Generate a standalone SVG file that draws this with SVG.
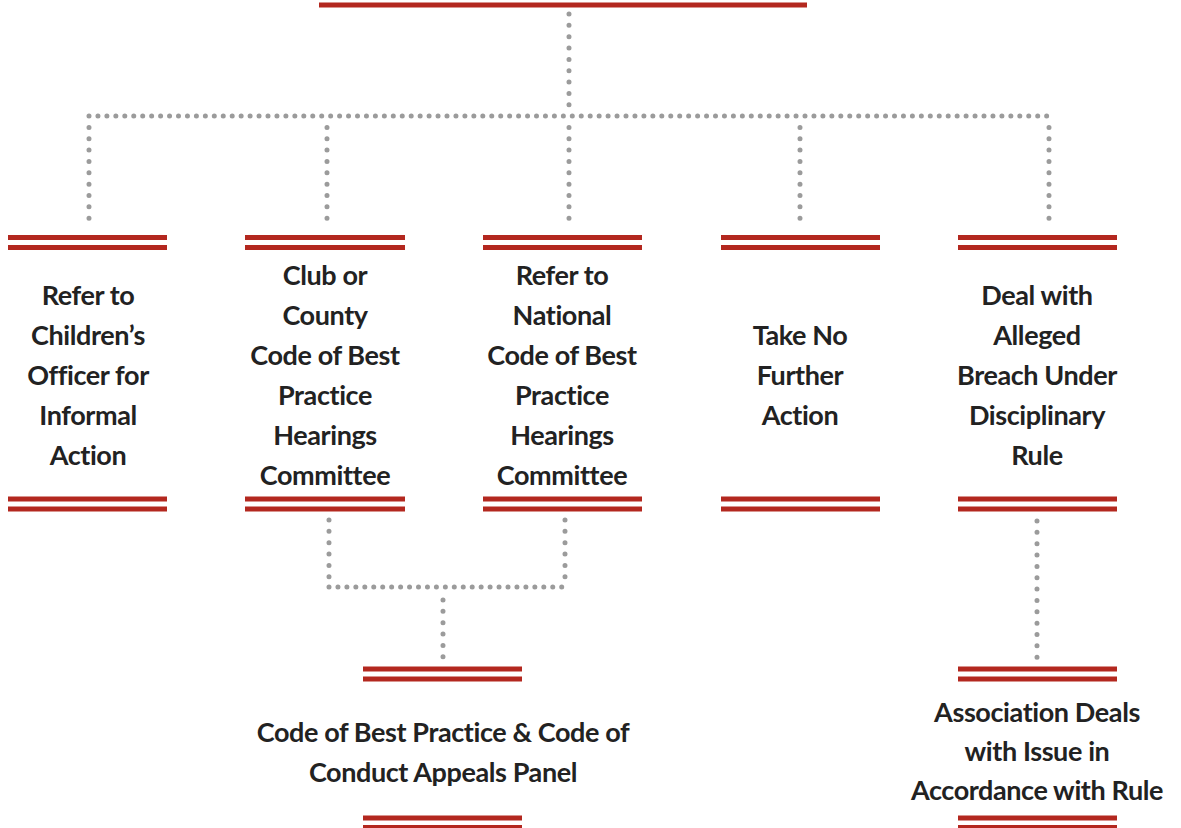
<svg xmlns="http://www.w3.org/2000/svg" width="1181" height="828" viewBox="0 0 1181 828">
<defs>
<style>
.bar{fill:#b3281f}
.dot{fill:none;stroke:#9b9b9b;stroke-width:5;stroke-linecap:round}
.v{stroke-dasharray:0 11.35}
.h{stroke-dasharray:0 8.95}
.t{font-family:Lato,"Open Sans",sans-serif;font-weight:700;font-size:27px;letter-spacing:-0.4px;fill:#222;text-anchor:middle}
</style>
</defs>
<rect width="1181" height="828" fill="#fff"/>
<g id="connectors">
<path class="dot v" d="M569 14V116"/>
<path class="dot h" d="M89 116H1049"/>
<path class="dot v" d="M89 127.4V226"/>
<path class="dot v" d="M327 127.4V226"/>
<path class="dot v" d="M569 127.4V226"/>
<path class="dot v" d="M800 127.4V226"/>
<path class="dot v" d="M1049 127.4V226"/>
<path class="dot v" d="M329 520V587"/>
<path class="dot v" d="M565 520V587"/>
<path class="dot h" d="M329 587H565"/>
<path class="dot v" d="M443 600V658"/>
<path class="dot v" d="M1037 521V658"/>
</g>
<g id="root">
<rect class="bar" x="319" y="2.5" width="488" height="5"/>
</g>
<g id="n1">
<rect class="bar" x="8" y="235" width="159" height="5"/>
<rect class="bar" x="8" y="245" width="159" height="5"/>
<text class="t"><tspan x="88" y="305">Refer to</tspan><tspan x="88" y="345">Children’s</tspan><tspan x="88" y="385">Officer for</tspan><tspan x="88" y="425">Informal</tspan><tspan x="88" y="465">Action</tspan></text>
<rect class="bar" x="8" y="496.5" width="159" height="5"/>
<rect class="bar" x="8" y="506.5" width="159" height="5"/>
</g>
<g id="n2">
<rect class="bar" x="245" y="235" width="160" height="5"/>
<rect class="bar" x="245" y="245" width="160" height="5"/>
<text class="t"><tspan x="325" y="285">Club or</tspan><tspan x="325" y="325">County</tspan><tspan x="325" y="365">Code of Best</tspan><tspan x="325" y="405">Practice</tspan><tspan x="325" y="445">Hearings</tspan><tspan x="325" y="485">Committee</tspan></text>
<rect class="bar" x="245" y="496.5" width="160" height="5"/>
<rect class="bar" x="245" y="506.5" width="160" height="5"/>
</g>
<g id="n3">
<rect class="bar" x="483" y="235" width="159" height="5"/>
<rect class="bar" x="483" y="245" width="159" height="5"/>
<text class="t"><tspan x="562" y="285">Refer to</tspan><tspan x="562" y="325">National</tspan><tspan x="562" y="365">Code of Best</tspan><tspan x="562" y="405">Practice</tspan><tspan x="562" y="445">Hearings</tspan><tspan x="562" y="485">Committee</tspan></text>
<rect class="bar" x="483" y="496.5" width="159" height="5"/>
<rect class="bar" x="483" y="506.5" width="159" height="5"/>
</g>
<g id="n4">
<rect class="bar" x="721" y="235" width="159" height="5"/>
<rect class="bar" x="721" y="245" width="159" height="5"/>
<text class="t"><tspan x="800" y="345">Take No</tspan><tspan x="800" y="385">Further</tspan><tspan x="800" y="425">Action</tspan></text>
<rect class="bar" x="721" y="496.5" width="159" height="5"/>
<rect class="bar" x="721" y="506.5" width="159" height="5"/>
</g>
<g id="n5">
<rect class="bar" x="958" y="235" width="159" height="5"/>
<rect class="bar" x="958" y="245" width="159" height="5"/>
<text class="t"><tspan x="1037" y="305">Deal with</tspan><tspan x="1037" y="345">Alleged</tspan><tspan x="1037" y="385">Breach Under</tspan><tspan x="1037" y="425">Disciplinary</tspan><tspan x="1037" y="465">Rule</tspan></text>
<rect class="bar" x="958" y="496.5" width="159" height="5"/>
<rect class="bar" x="958" y="506.5" width="159" height="5"/>
</g>
<g id="n6">
<rect class="bar" x="363" y="666.5" width="159" height="5"/>
<rect class="bar" x="363" y="676.5" width="159" height="5"/>
<text class="t"><tspan x="443" y="742">Code of Best Practice &amp; Code of</tspan><tspan x="443" y="782">Conduct Appeals Panel</tspan></text>
<rect class="bar" x="363" y="815.5" width="159" height="5"/>
<rect class="bar" x="363" y="825" width="159" height="5"/>
</g>
<g id="n7">
<rect class="bar" x="958" y="666.5" width="159" height="5"/>
<rect class="bar" x="958" y="676.5" width="159" height="5"/>
<text class="t"><tspan x="1037" y="722">Association Deals</tspan><tspan x="1037" y="761">with Issue in</tspan><tspan x="1037" y="800">Accordance with Rule</tspan></text>
<rect class="bar" x="958" y="815.5" width="159" height="5"/>
<rect class="bar" x="958" y="825" width="159" height="5"/>
</g>
</svg>
